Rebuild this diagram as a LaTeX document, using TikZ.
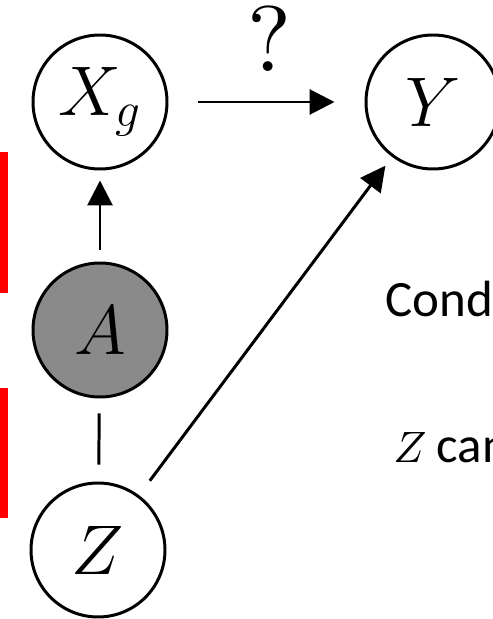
\RequirePackage{fix-cm}
\documentclass[tikz,border=0pt]{standalone}
\usepackage{fontspec}
\newfontfamily\notefont{Carlito}
\usetikzlibrary{arrows.meta}
\definecolor{nodegray}{gray}{0.54}
\tikzset{
  var/.style={circle,draw,line width=1.7pt,minimum size=2.68cm,inner sep=0pt,font=\fontsize{40}{48}\selectfont},
  obs/.style={var,fill=nodegray},
  causal/.style={line width=1.7pt,-{Triangle[length=0.5cm,width=0.5cm]}},
  tie/.style={line width=1.7pt},
  note/.style={anchor=base west,inner sep=0pt,font=\notefont\fontsize{29}{35}\selectfont}
}
\begin{document}
\begin{tikzpicture}
\useasboundingbox (0,0) rectangle (9.84,12.38);
\fill[red] (0,9.34) rectangle (0.16,6.52);
\fill[red] (0,4.62) rectangle (0.16,2.02);
\node[var] (xg) at (2.00,10.34) {$X_g$};
\node[var] (y) at (8.66,10.34) {$Y$};
\node[obs] (a) at (2.00,5.78) {$A$};
\node[var] (z) at (1.96,1.38) {$Z$};
\draw[causal,shorten <=0.24cm,shorten >=0.2cm] (a) -- (xg);
\draw[causal,shorten <=0.6cm,shorten >=0.6cm] (xg) -- (y);
\draw[tie,shorten <=0.3cm,shorten >=0.34cm] (a) -- (z);
\draw[causal,shorten <=0.36cm,shorten >=0.22cm] (z) -- (y);
\node[inner sep=0pt,anchor=base] (q) at (5.38,10.94) {\fontsize{10}{12}\selectfont\scalebox{5.3}{?}};
\node[note] (cond) at (7.70,6.04) {Condi};
\node[note] (zcan) at (7.86,3.12) {{\fontsize{10}{12}\selectfont\scalebox{2.5}{$Z$}}\hspace{0.2cm}can};
\end{tikzpicture}
\end{document}
